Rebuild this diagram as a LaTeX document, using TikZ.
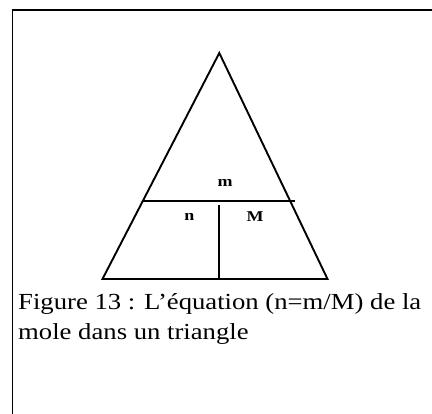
\documentclass[tikz,border=0pt]{standalone}
\usepackage{fontspec}
\setmainfont{Liberation Serif}
\newcommand{\hstretch}[1]{\scalebox{1.16}[1]{#1}}
\newcommand{\lstretch}[1]{\scalebox{1.2}[1]{#1}}
\begin{document}
\begin{tikzpicture}[x=1pt,y=-1pt,
  edge/.style={line width=1.9pt,line cap=butt},
  lbl/.style={font=\bfseries\fontsize{15}{17}\selectfont,inner sep=0pt},
  captext/.style={font=\fontsize{23}{27}\selectfont,inner sep=0pt,anchor=base west}]
\useasboundingbox (0,0) rectangle (432,414);
\draw[line width=1.3pt] (12.5,420) -- (12.5,10) -- (440,10);
\coordinate (A) at (219.3,53);
\coordinate (B) at (102.5,279);
\coordinate (C) at (327.5,279);
\draw[edge,line join=miter] (A) -- (B) -- (C) -- cycle;
\coordinate (H1) at (143.3,200.7);
\coordinate (H2) at (294.5,200.7);
\draw[edge] (H1) -- (H2);
\coordinate (V1) at (219.3,205);
\coordinate (V2) at (219.3,279);
\draw[edge] (V1) -- (V2);
\node[lbl] (m) at (225,182.5) {\lstretch{m}};
\node[lbl] (n) at (189.5,216.5) {\lstretch{n}};
\node[lbl] (M) at (255,216.5) {\lstretch{M}};
\node[captext] (cap1) at (18,310) {\hstretch{Figure 13 : L’équation (n=m/M) de la}};
\node[captext] (cap2) at (18,340) {\hstretch{mole dans un triangle}};
\end{tikzpicture}
\end{document}
